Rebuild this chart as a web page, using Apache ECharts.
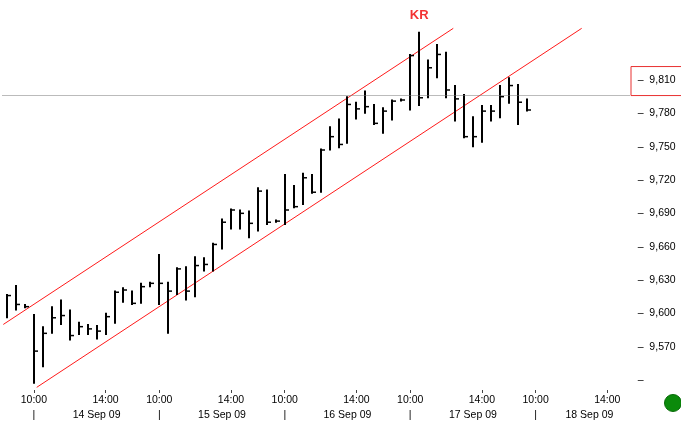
<!DOCTYPE html>
<html><head><meta charset="utf-8">
<script src="https://cdn.jsdelivr.net/npm/echarts@6/dist/echarts.min.js"></script>
<style>html,body{margin:0;padding:0;background:#fff}#c{width:681px;height:427px}</style>
</head><body><div id="c"></div>
<script>
// ---- data ----
const days = ['11 Sep 09','14 Sep 09','15 Sep 09','16 Sep 09','17 Sep 09','18 Sep 09'];
const sessionTimes = ['10:00','10:30','11:00','11:30','12:00','12:30','13:00','13:30','14:00','14:30','15:00','15:30','16:00','16:30'];
const firstDayTimes = ['15:30','16:00','16:30'];
const lastDayTimes = ['10:00','10:30','11:00','11:30','12:00','12:30','13:00','13:30','14:00','14:30','15:00'];

const highs  = [9617,9625,9608,9599,9588,9606,9612,9603,9592,9590,9589,9600,9620,9623,9620,9627,9628,9653,9628,9641,
                9642,9651,9650,9663,9685,9694,9693,9692,9713,9711,9684,9725,9715,9726,9725,9748,9768,9775,9795,9790,
                9800,9788,9785,9792,9793,9833,9853,9828,9842,9835,9805,9797,9777,9787,9787,9805,9812,9806,9793];
const lows   = [9596,9603,9605,9537,9552,9582,9590,9576,9581,9581,9577,9581,9591,9610,9608,9609,9624,9608,9582,9617,
                9612,9615,9638,9638,9658,9676,9676,9668,9674,9680,9682,9680,9695,9698,9708,9709,9747,9749,9753,9775,
                9780,9770,9762,9774,9791,9783,9787,9794,9812,9794,9773,9758,9750,9754,9773,9776,9789,9770,9782];
const closes = [9616,9608,9606,9566,9582,9596,9598,9580,9588,9586,9584,9597,9619,9621,9609,9624,9627,9627,9620,9640,
                9620,9643,9644,9662,9682,9693,9690,9681,9710,9682,9683,9693,9696,9722,9709,9747,9759,9752,9788,9784,
                9786,9771,9782,9791,9792,9832,9794,9821,9833,9801,9793,9759,9759,9782,9782,9795,9805,9790,9783];

const channelUpper = [[-0.41, 9590], [49.81, 9856.5]];
const channelLower = [[3.32, 9533.4], [64.14, 9856.5]];
const refLineValue = 9796;
const krIndex = 46;
const krText = 'KR';

const yTickValues = [9540,9570,9600,9630,9660,9690,9720,9750,9780,9810];
const timeTickLabels = ['10:00','14:00'];
const dayMarker = '|';
const dateLabelSlots = {'14 Sep 09':'13:30','15 Sep 09':'13:30','16 Sep 09':'13:30','17 Sep 09':'13:30','18 Sep 09':'13:00'};

// ---- build categories ----
const categories = [];
days.forEach((d, k) => {
  const times = k === 0 ? firstDayTimes : (k === days.length - 1 ? lastDayTimes : sessionTimes);
  times.forEach(t => categories.push(d + ' ' + t));
});
const hlcData = highs.map((h, i) => [i, h, lows[i], closes[i]]);

function timeLabel(value) {
  const day = value.slice(0, 9), time = value.slice(10);
  if (day === days[0]) return '';
  return timeTickLabels.indexOf(time) >= 0 ? time : '';
}
function dateLabel(value) {
  const day = value.slice(0, 9), time = value.slice(10);
  if (day === days[0]) return '';
  if (time === timeTickLabels[0]) return dayMarker;
  if (dateLabelSlots[day] === time) return day;
  return '';
}
function fmtNum(v) { return String(v).replace(/\B(?=(\d{3})+(?!\d))/g, ','); }

const FONT = 'Liberation Sans';

function renderHLC(params, api) {
  const i = api.value(0);
  const h = api.coord([i, api.value(1)]);
  const l = api.coord([i, api.value(2)]);
  const c = api.coord([i, api.value(3)]);
  const x = Math.round(h[0]);
  return {
    type: 'group',
    children: [
      {type: 'line', shape: {x1: x, y1: h[1] - 0.5, x2: x, y2: l[1] + 0.5}, style: {stroke: '#000', lineWidth: 2}},
      {type: 'line', shape: {x1: x, y1: c[1], x2: x + 4, y2: c[1]}, style: {stroke: '#000', lineWidth: 1.5}}
    ]
  };
}

const labelBase = {color: '#000', fontFamily: FONT, fontSize: 10.5, showMinLabel: true, showMaxLabel: true, hideOverlap: false};

const chart = echarts.init(document.getElementById('c'), null, {renderer: 'canvas'});
chart.setOption({
  animation: false,
  backgroundColor: '#fff',
  grid: {left: 2.5, right: 51.3, top: 0, bottom: 37, containLabel: false},
  xAxis: [{
    type: 'category',
    data: categories,
    boundaryGap: true,
    axisLine: {show: false},
    axisTick: {
      show: true, alignWithLabel: true, length: 3,
      interval: (idx, v) => timeLabel(v) !== '',
      lineStyle: {color: '#444', width: 1}
    },
    axisLabel: Object.assign({}, labelBase, {
      interval: (idx, v) => timeLabel(v) !== '',
      formatter: timeLabel,
      margin: 5
    }),
    splitLine: {show: false}
  }, {
    type: 'value', min: -0.5, max: 69.5, show: false
  }, {
    type: 'category',
    data: categories,
    boundaryGap: true,
    position: 'bottom',
    offset: 15,
    axisLine: {show: false},
    axisTick: {show: false},
    axisLabel: Object.assign({}, labelBase, {
      interval: (idx, v) => dateLabel(v) !== '',
      formatter: dateLabel,
      margin: 5
    }),
    splitLine: {show: false}
  }],
  yAxis: {
    type: 'value',
    position: 'right',
    min: 9531, max: 9882,
    axisLine: {show: false},
    axisTick: {show: false},
    splitLine: {show: false},
    axisLabel: {
      customValues: yTickValues,
      margin: 8,
      color: '#000',
      fontFamily: FONT,
      fontSize: 10.5,
      formatter: v => v === yTickValues[0] ? '–' : '–  ' + fmtNum(v)
    }
  },
  series: [
    {
      type: 'line', xAxisIndex: 1, data: channelUpper, symbol: 'none', clip: false, z: 2,
      lineStyle: {color: '#ff1a1a', width: 1},
      markLine: {
        silent: true, symbol: 'none', label: {show: false},
        lineStyle: {type: [1, 1], color: '#777', width: 1},
        data: [{yAxis: refLineValue}]
      }
    },
    {
      type: 'line', xAxisIndex: 1, data: channelLower, symbol: 'none', clip: false, z: 2,
      lineStyle: {color: '#ff1a1a', width: 1}
    },
    {
      type: 'custom', xAxisIndex: 0, renderItem: renderHLC, data: hlcData, z: 3,
      encode: {x: 0, y: [1, 2, 3]}
    },
    {
      type: 'scatter', xAxisIndex: 0, data: [[krIndex, highs[krIndex]]], symbol: 'circle', symbolSize: 2,
      itemStyle: {color: 'rgba(0,0,0,0)'}, z: 4, silent: true,
      label: {show: true, position: 'top', distance: 9, formatter: krText,
              color: '#f00000', fontWeight: 'bold', fontSize: 13, fontFamily: FONT}
    }
  ]
});

const yRef = chart.convertToPixel({yAxisIndex: 0}, refLineValue);
chart.setOption({
  graphic: [
    {type: 'rect', shape: {x: 631, y: yRef - 29, width: 52, height: 29},
     style: {fill: 'none', stroke: '#e83030', lineWidth: 1}, silent: true},
    {type: 'circle', shape: {cx: 673, cy: 403, r: 8.5},
     style: {fill: '#0b8a0b', stroke: '#096b09', lineWidth: 1}, silent: true}
  ]
});
</script>
</body></html>
